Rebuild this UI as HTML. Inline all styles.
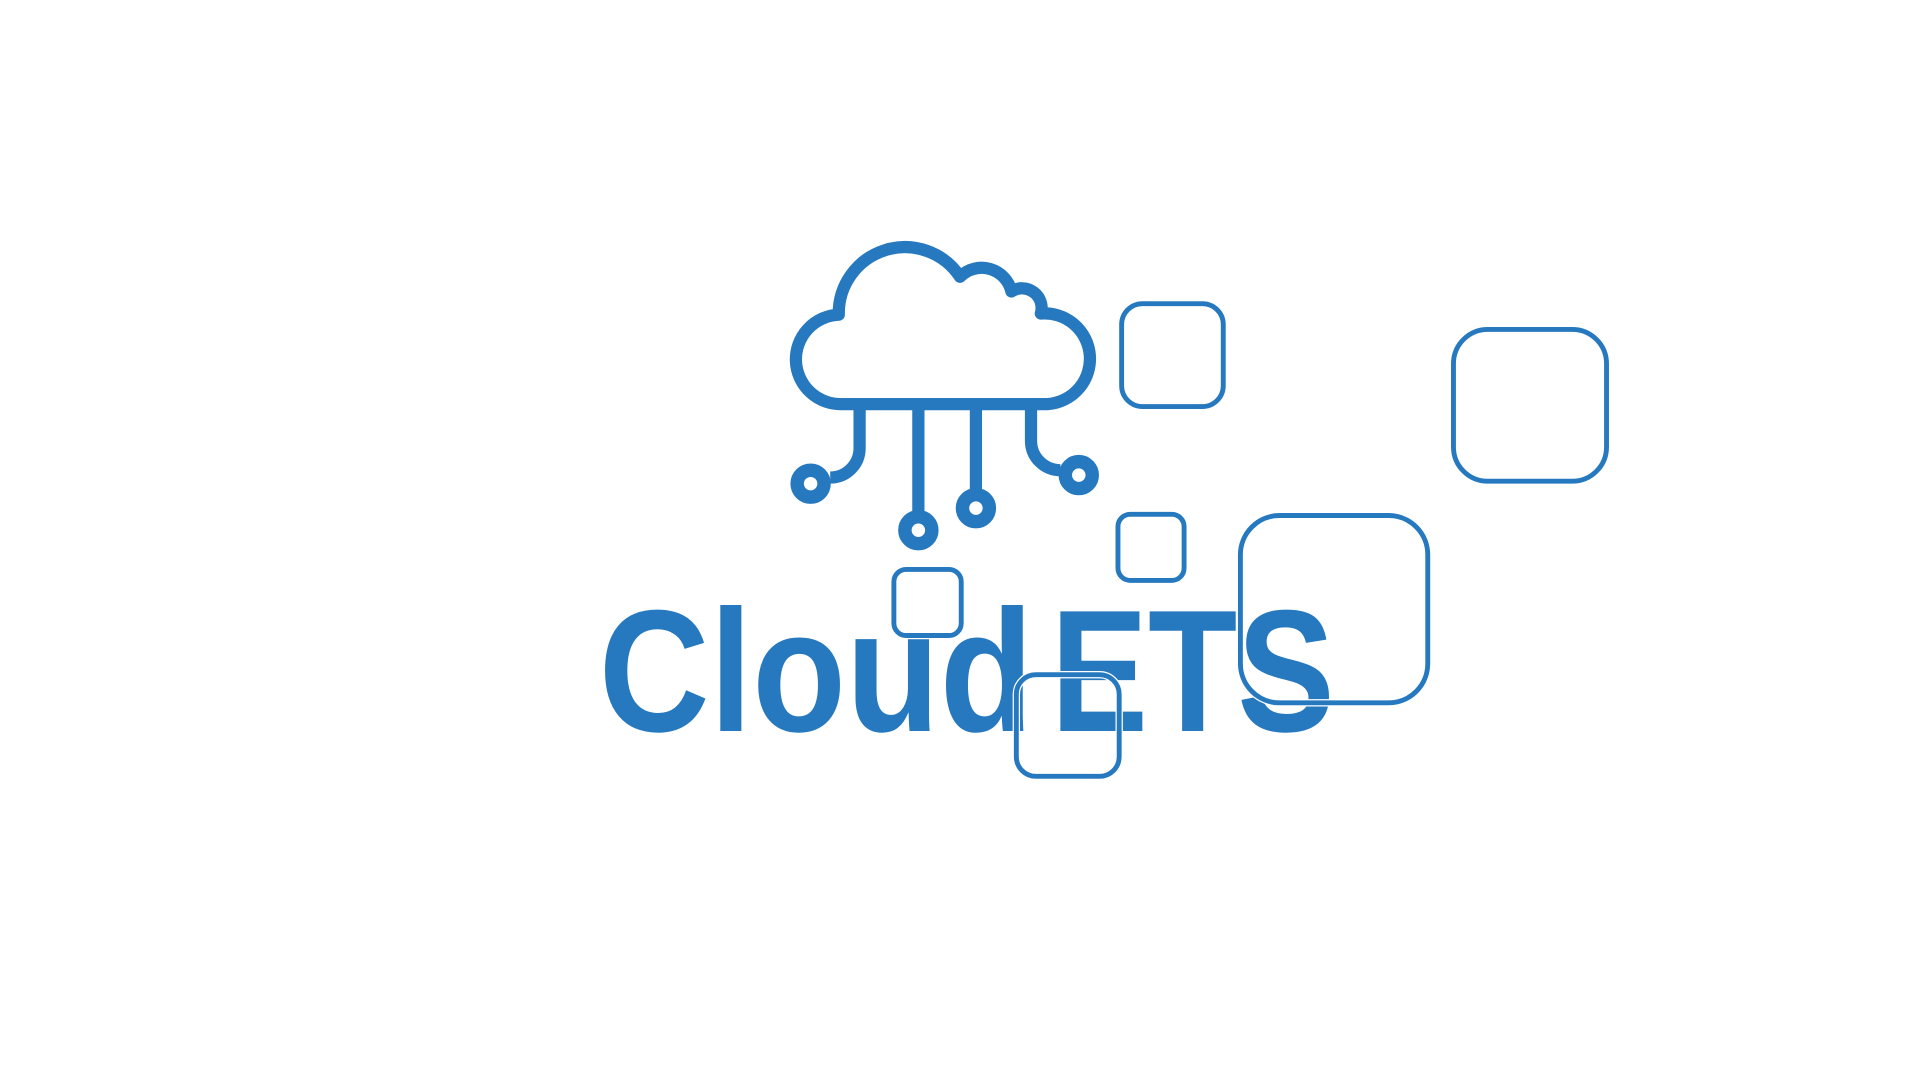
<!DOCTYPE html>
<html><head><meta charset="utf-8"><style>
html,body{margin:0;padding:0;background:#fff;width:1920px;height:1080px;overflow:hidden}
svg{display:block}
</style></head><body>
<svg width="1920" height="1080" viewBox="0 0 1568 882" xmlns="http://www.w3.org/2000/svg">
<g fill="none" stroke="#2779bf">
  <path stroke-width="10" stroke-linejoin="round" d="M688,330 A36,36 0 0 1 685,257 A54,54 0 0 1 784,226 A25,25 0 0 1 826,238 A16,16 0 0 1 850,256 A37,37 0 0 1 856,330 Z"/>
  <path stroke-width="10" d="M702,330 V366 A24,24 0 0 1 678,390"/>
  <path stroke-width="10" d="M750,330 V420"/>
  <path stroke-width="10" d="M797,330 V402"/>
  <path stroke-width="10" d="M842,330 V360 A24,24 0 0 0 866,384"/>
  <circle cx="662" cy="395" r="11" stroke-width="11"/>
  <circle cx="750" cy="433" r="11" stroke-width="11"/>
  <circle cx="797" cy="415" r="11" stroke-width="11"/>
  <circle cx="881" cy="388" r="11" stroke-width="11"/>
</g>
<text x="489" y="597" font-family="Liberation Sans, sans-serif" font-weight="bold" font-size="142" fill="#2779bf" textLength="355" lengthAdjust="spacingAndGlyphs">Cloud</text>
<text x="858" y="597" font-family="Liberation Sans, sans-serif" font-weight="bold" font-size="142" fill="#2779bf" textLength="232" lengthAdjust="spacingAndGlyphs">ETS</text>
<g fill="none">
  <g stroke="#fff" stroke-width="6">
    <rect x="916" y="248" width="83" height="84" rx="17"/>
    <rect x="1187" y="269" width="125" height="124" rx="28"/>
    <rect x="1013" y="421" width="153" height="153" rx="32"/>
    <rect x="913" y="420" width="54" height="54" rx="10"/>
    <rect x="730" y="465" width="55" height="54" rx="10"/>
    <rect x="830" y="551" width="84" height="83" rx="16"/>
  </g>
  <g stroke="#2779bf" stroke-width="4">
    <rect x="916" y="248" width="83" height="84" rx="17"/>
    <rect x="1187" y="269" width="125" height="124" rx="28"/>
    <rect x="1013" y="421" width="153" height="153" rx="32"/>
    <rect x="913" y="420" width="54" height="54" rx="10"/>
    <rect x="730" y="465" width="55" height="54" rx="10"/>
    <rect x="830" y="551" width="84" height="83" rx="16"/>
  </g>
</g>
</svg>
</body></html>
